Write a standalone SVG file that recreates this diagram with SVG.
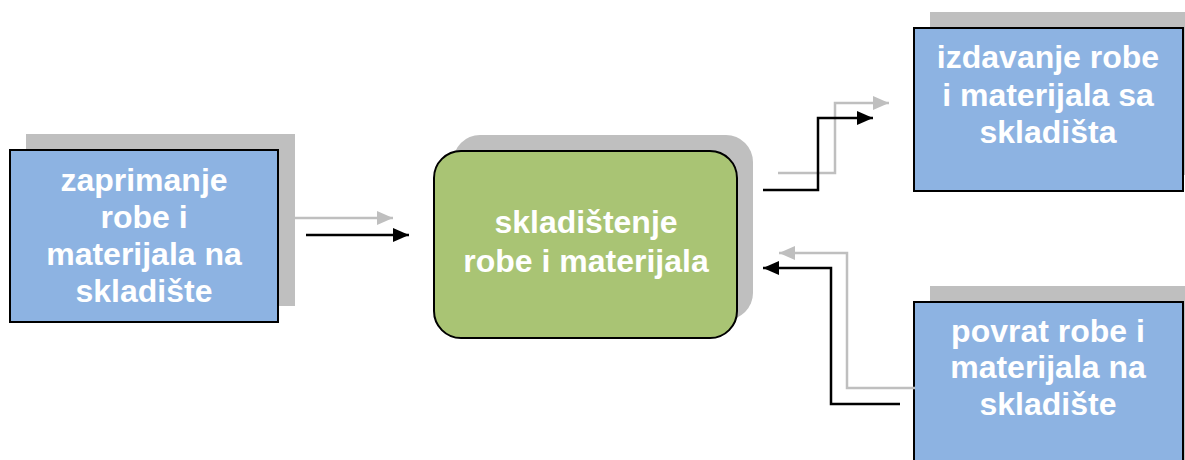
<svg xmlns="http://www.w3.org/2000/svg" width="1185" height="460" viewBox="0 0 1185 460">
<style>
.shadow{fill:#BFBFBF}
.box{fill:#8DB3E2;stroke:#000;stroke-width:2}
.green{fill:#A9C474;stroke:#000;stroke-width:2}
.lbl{font-family:"Liberation Sans",Arial,sans-serif;font-weight:bold;font-size:32px;fill:#fff;text-anchor:middle}
.g{fill:none;stroke:#BFBFBF;stroke-width:2.5}
.k{fill:none;stroke:#000;stroke-width:2.5}
</style>
<defs>
<marker id="ag" markerUnits="userSpaceOnUse" markerWidth="16" markerHeight="14" refX="16" refY="7" orient="auto"><path d="M0,0 L16,7 L0,14 Z" fill="#BFBFBF"/></marker>
<marker id="ak" markerUnits="userSpaceOnUse" markerWidth="16" markerHeight="14" refX="16" refY="7" orient="auto"><path d="M0,0 L16,7 L0,14 Z" fill="#000"/></marker>
</defs>
<rect width="1185" height="460" fill="#fff"/>
<g id="zaprimanje">
<rect class="shadow" x="26" y="134" width="269" height="172"/>
<rect class="box" x="10" y="150" width="268" height="172"/>
<text class="lbl"><tspan x="144" y="191">zaprimanje</tspan><tspan x="144" y="228">robe i</tspan><tspan x="144" y="265">materijala na</tspan><tspan x="144" y="302">skladište</tspan></text>
</g>
<g id="skladistenje">
<rect class="shadow" x="453" y="135" width="300" height="185" rx="27"/>
<rect class="green" x="434" y="151" width="303" height="187" rx="27"/>
<text class="lbl"><tspan x="586" y="233">skladištenje</tspan><tspan x="586" y="272">robe i materijala</tspan></text>
</g>
<g id="izdavanje">
<rect class="shadow" x="930" y="12" width="260" height="163"/>
<rect class="box" x="914" y="28" width="269" height="163"/>
<text class="lbl"><tspan x="1048" y="68">izdavanje robe</tspan><tspan x="1048" y="106">i materijala sa</tspan><tspan x="1048" y="143">skladišta</tspan></text>
</g>
<g id="povrat">
<rect class="shadow" x="930" y="286" width="260" height="190"/>
<rect class="box" x="914" y="302" width="269" height="170"/>
<text class="lbl"><tspan x="1048" y="342">povrat robe i</tspan><tspan x="1048" y="378">materijala na</tspan><tspan x="1048" y="415">skladište</tspan></text>
</g>
<g id="connectors">
<path class="g" d="M290,218 H393" marker-end="url(#ag)"/>
<path class="k" d="M306,235 H409" marker-end="url(#ak)"/>
<path class="g" d="M778,173 H835 V103 H889" marker-end="url(#ag)"/>
<path class="k" d="M763,190 H818 V118 H873" marker-end="url(#ak)"/>
<path class="g" d="M915,388 H847 V253 H779" marker-end="url(#ag)"/>
<path class="k" d="M900,404 H831 V268 H763" marker-end="url(#ak)"/>
</g>
</svg>
